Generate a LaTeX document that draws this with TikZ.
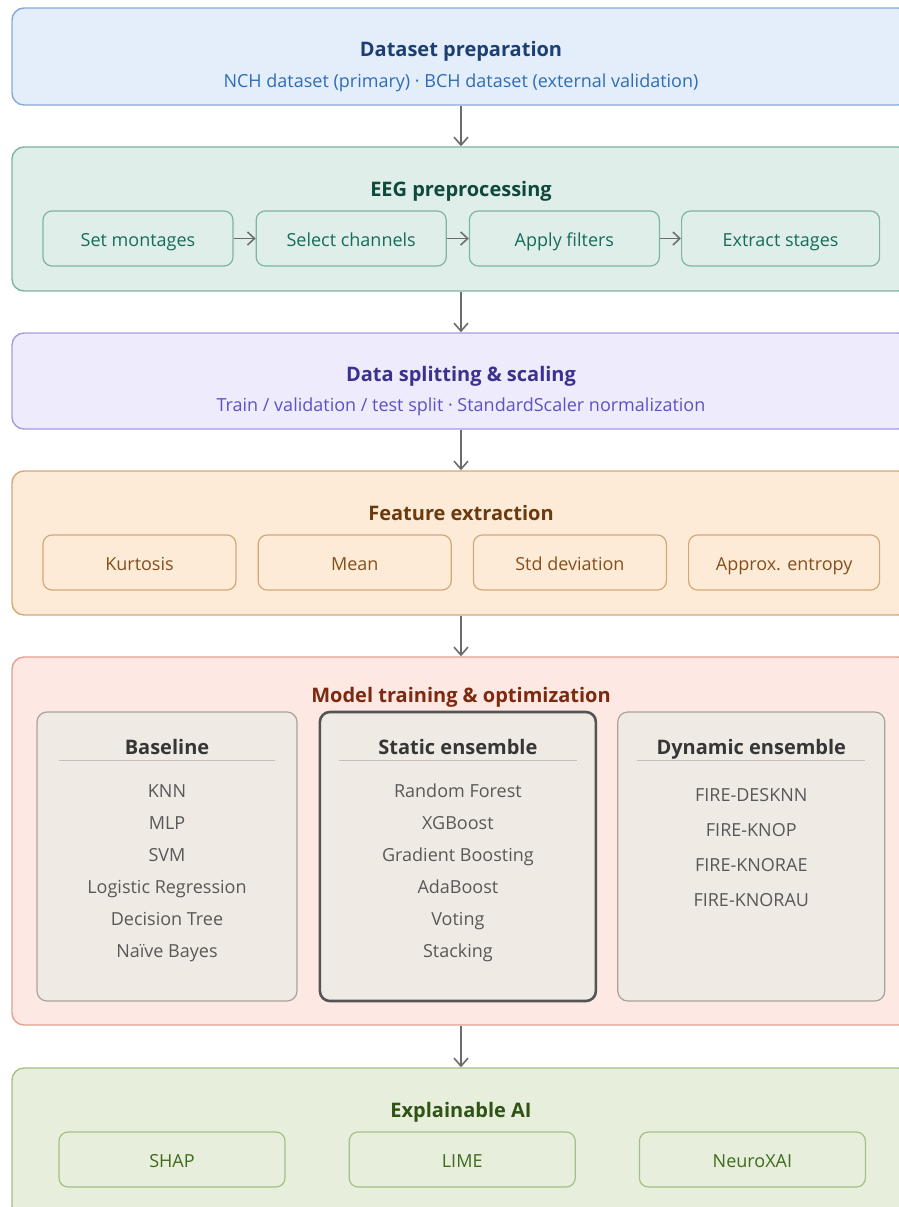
\documentclass[tikz,border=0pt]{standalone}
\usepackage{fontspec}
\setmainfont{Open Sans}
\usetikzlibrary{arrows.meta,positioning}

\definecolor{arrowgray}{HTML}{6B6B6B}
\definecolor{prepfill}{HTML}{E4EEFB}
\definecolor{prepline}{HTML}{86A9DA}
\definecolor{preptitle}{HTML}{1B3F73}
\definecolor{preptext}{HTML}{2E6DB4}
\definecolor{eegfill}{HTML}{DFEEE9}
\definecolor{eegline}{HTML}{7DB5A5}
\definecolor{eegtitle}{HTML}{0E4A3C}
\definecolor{eegtext}{HTML}{176B5A}
\definecolor{splitfill}{HTML}{EEEBFC}
\definecolor{splitline}{HTML}{A59CE0}
\definecolor{splittitle}{HTML}{3B3290}
\definecolor{splittext}{HTML}{5B52C4}
\definecolor{featfill}{HTML}{FDEBD8}
\definecolor{featline}{HTML}{D3A877}
\definecolor{feattitle}{HTML}{6B3A0E}
\definecolor{feattext}{HTML}{83501C}
\definecolor{modelfill}{HTML}{FDE8E3}
\definecolor{modelline}{HTML}{E2A08E}
\definecolor{modeltitle}{HTML}{7B2A10}
\definecolor{colfill}{HTML}{F0EAE4}
\definecolor{colline}{HTML}{A9A39D}
\definecolor{headtext}{HTML}{363636}
\definecolor{itemtext}{HTML}{585858}
\definecolor{xaifill}{HTML}{E7EEDB}
\definecolor{xailine}{HTML}{A3C184}
\definecolor{xaititle}{HTML}{2F5315}
\definecolor{xaitext}{HTML}{3E6B1C}

\begin{document}
\begin{tikzpicture}[
  x=1pt, y=-1pt,
  phase/.style={draw, line width=1.4pt, rounded corners=12pt, minimum width=898pt, inner sep=0pt},
  phasetitle/.style={anchor=base, font=\fontsize{20}{24}\selectfont\bfseries},
  phasenote/.style={anchor=base, font=\fontsize{18}{22}\selectfont},
  stepbox/.style={draw, line width=1.2pt, rounded corners=9pt, minimum height=55pt, inner sep=0pt,
    text height=20pt, text depth=3.6pt, font=\fontsize{18}{22}\selectfont},
  colbox/.style={draw=colline, fill=colfill, line width=1.2pt, rounded corners=10pt, minimum height=289pt, inner sep=0pt},
  colhead/.style={anchor=base, font=\fontsize{20}{24}\selectfont\bfseries, text=headtext},
  collist/.style={align=center, anchor=north, inner sep=0pt, text=itemtext},
  flow/.style={draw=arrowgray, line width=1.6pt, -{Straight Barb[length=8pt,width=14pt]}},
  stepflow/.style={draw=arrowgray, line width=1.5pt, -{Straight Barb[length=7pt,width=13pt]}},
]
\useasboundingbox (0,0) rectangle (899,1207);
\clip (0,0) rectangle (899,1207);

% (1) dataset preparation
\node[phase, draw=prepline, fill=prepfill, minimum height=97pt] (prep) at (461,56.5) {};
\node[phasetitle, text=preptitle] (preptitle) at (461,57) {Dataset preparation};
\node[phasenote, text=preptext] (prepnote) at (461,87.5) {NCH dataset (primary) · BCH dataset (external validation)};

% (2) EEG preprocessing -- four steps chained left to right
\node[phase, draw=eegline, fill=eegfill, minimum height=144pt] (eeg) at (461,219) {};
\node[phasetitle, text=eegtitle] (eegtitle) at (461,196.5) {EEG preprocessing};
\node[stepbox, draw=eegline, text=eegtext, minimum width=190pt] (montage) at (138,238.5) {Set montages};
\node[stepbox, draw=eegline, text=eegtext, minimum width=190pt, right=22pt of montage] (channels) {Select channels};
\node[stepbox, draw=eegline, text=eegtext, minimum width=190pt, right=22pt of channels] (filters) {Apply filters};
\node[stepbox, draw=eegline, text=eegtext, minimum width=198pt, right=21pt of filters] (stages) {Extract stages};

% (3) splitting and scaling
\node[phase, draw=splitline, fill=splitfill, minimum height=96pt] (split) at (461,381) {};
\node[phasetitle, text=splittitle] (splittitle) at (461,381.5) {Data splitting \& scaling};
\node[phasenote, text=splittext] (splitnote) at (461,411.5) {Train / validation / test split · StandardScaler normalization};

% (4) feature extraction
\node[phase, draw=featline, fill=featfill, minimum height=144pt] (feat) at (461,543) {};
\node[phasetitle, text=feattitle] (feattitle) at (461,520) {Feature extraction};
\node[stepbox, draw=featline, text=feattext, minimum width=193pt] (kurt) at (139.5,562.5) {Kurtosis};
\node[stepbox, draw=featline, text=feattext, minimum width=193pt, right=21pt of kurt] (mean) {Mean};
\node[stepbox, draw=featline, text=feattext, minimum width=193pt, right=21pt of mean] (std) {Std deviation};
\node[stepbox, draw=featline, text=feattext, minimum width=191pt, right=21pt of std] (apen) {Approx. entropy};

% (5) model training -- three model families side by side
\node[phase, draw=modelline, fill=modelfill, minimum height=368pt] (model) at (461,841) {};
\node[phasetitle, text=modeltitle] (modeltitle) at (461,702.5) {Model training \& optimization};
\node[colbox, minimum width=260pt] (baseline) at (167,856.5) {};
\node[colbox, draw=headtext!85, line width=2.6pt, minimum width=276pt, right=21pt of baseline] (static) {};
\node[colbox, minimum width=267pt, right=20pt of static] (dynamic) {};

\node[colhead] (baselinehead) at (baseline.center |- 0,754) {Baseline};
\node[colhead] (statichead) at (static.center |- 0,754) {Static ensemble};
\node[colhead] (dynamichead) at (dynamic.center |- 0,754) {Dynamic ensemble};
\draw[colline!70, line width=1pt] ([xshift=23pt]baseline.west |- 0,760) -- ([xshift=-23pt]baseline.east |- 0,760);
\draw[colline!70, line width=1pt] ([xshift=20pt]static.west |- 0,760) -- ([xshift=-20pt]static.east |- 0,760);
\draw[colline!70, line width=1pt] ([xshift=20pt]dynamic.west |- 0,760) -- ([xshift=-20pt]dynamic.east |- 0,760);

\node[collist, font=\fontsize{18}{32}\selectfont] (baselinelist) at (baseline.center |- 0,784.4)
  {KNN\\MLP\\SVM\\Logistic Regression\\Decision Tree\\Naïve Bayes};
\node[collist, font=\fontsize{18}{32}\selectfont] (staticlist) at (static.center |- 0,783.6)
  {Random Forest\\XGBoost\\Gradient Boosting\\AdaBoost\\Voting\\Stacking};
\node[collist, font=\fontsize{18}{35}\selectfont] (dynamiclist) at (dynamic.center |- 0,787.8)
  {FIRE-DESKNN\\FIRE-KNOP\\FIRE-KNORAE\\FIRE-KNORAU};

% (6) explainability
\node[phase, draw=xailine, fill=xaifill, minimum height=150pt] (xai) at (461,1143) {};
\node[phasetitle, text=xaititle] (xaititle) at (461,1117) {Explainable AI};
\node[stepbox, draw=xailine, text=xaitext, minimum width=226pt] (shap) at (172,1159.5) {SHAP};
\node[stepbox, draw=xailine, text=xaitext, minimum width=226pt, right=63pt of shap] (lime) {LIME};
\node[stepbox, draw=xailine, text=xaitext, minimum width=226pt, right=63pt of lime] (neuro) {NeuroXAI};

% arrows through the pipeline
\draw[flow] (prep) -- (eeg);
\draw[flow] (eeg) -- (split);
\draw[flow] (split) -- (feat);
\draw[flow] (feat) -- (model);
\draw[flow] (model) -- (xai);
\draw[stepflow] (montage) -- (channels);
\draw[stepflow] (channels) -- (filters);
\draw[stepflow] (filters) -- (stages);

\end{tikzpicture}
\end{document}
